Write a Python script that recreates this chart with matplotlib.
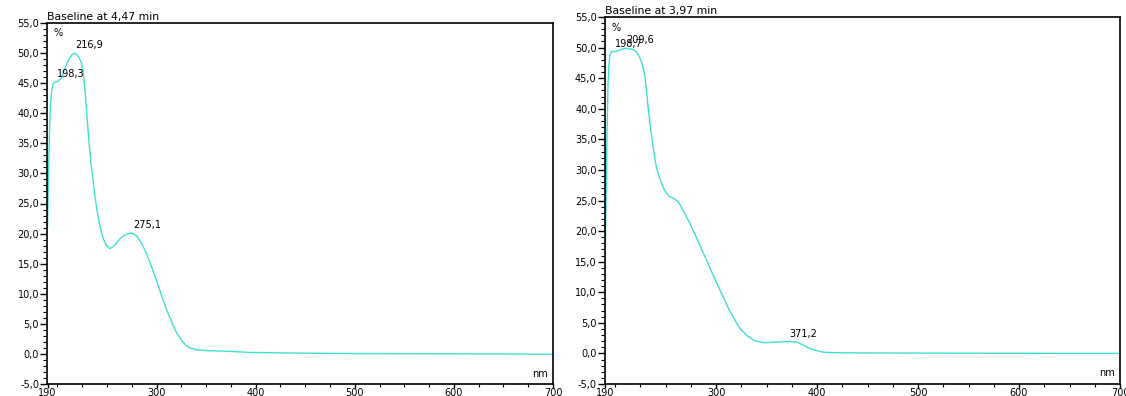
import matplotlib
matplotlib.use("Agg")
import matplotlib.pyplot as plt
from matplotlib.ticker import MultipleLocator, FuncFormatter, FixedLocator

# spectrum at 4,47 min (nm, %)
wl_a = [190, 191, 192, 193, 194, 195.5, 196.5, 198.3, 201, 204.3, 206.5, 209.4, 212, 214.5,
        216.9, 219.5, 222, 224.5, 226, 228, 230, 232, 234, 236, 238, 240, 242, 244, 246, 249,
        253, 258, 263, 268, 275.1, 280, 285, 290, 295, 300, 305, 310, 316, 320, 325, 330,
        334, 340, 350, 370, 394, 450, 500, 600, 700]
ab_a = [21, 30, 37, 41.5, 43.5, 44.8, 45.1, 45.2, 45.4, 45.9, 47.0, 48.2, 49.1, 49.7,
        50.0, 49.8, 49.2, 48.2, 46.8, 43.5, 39.1, 35.0, 31.5, 28.8, 26.0, 23.8, 22.0, 20.5,
        19.3, 18.1, 17.5, 18.1, 19.1, 19.8, 20.1, 19.6, 18.4, 16.6, 14.5, 12.2, 9.7, 7.4,
        5.0, 3.6, 2.3, 1.4, 1.0, 0.7, 0.55, 0.45, 0.25, 0.12, 0.06, 0.02, -0.05]
peaks_a = [198.3, 216.9, 275.1]
peak_val_a = [45.2, 50.0, 20.1]

# spectrum at 3,97 min (nm, %)
wl_b = [190, 191, 192, 193, 194, 195, 196.6, 198.7, 201, 203, 206, 209.6, 214, 218, 221.5,
        224.7, 227, 229.6, 231, 233, 235, 237, 239, 241, 243, 246, 248, 251, 254, 257.5,
        261, 262.6, 268, 274, 282, 290.7, 299, 307.2, 313, 318.7, 324, 330.3, 338, 346.8,
        356, 366, 371.2, 379.8, 386, 393, 400, 406, 422, 450, 500, 600, 700]
ab_b = [14, 25, 36, 44, 47.5, 48.8, 49.4, 49.3, 49.4, 49.5, 49.7, 49.9, 49.8, 49.7, 49.2,
        48.3, 47.2, 45.3, 43.0, 39.8, 37.0, 34.5, 32.2, 30.4, 29.2, 27.8, 27.0, 26.2, 25.6,
        25.4, 25.0, 24.8, 23.2, 21.3, 18.4, 15.2, 12.1, 9.2, 7.1, 5.4, 4.0, 2.95, 2.1, 1.75,
        1.8, 1.9, 1.95, 1.85, 1.4, 0.77, 0.45, 0.2, 0.1, 0.08, 0.05, 0.02, 0.0]
peaks_b = [198.7, 209.6, 371.2]
peak_val_b = [49.3, 49.9, 1.95]

x_ticks = [190, 300, 400, 500, 600, 700]
titles = ["Baseline at 4,47 min", "Baseline at 3,97 min"]

plt.rcParams["font.family"] = ["DejaVu Sans"]
plt.rcParams["font.size"] = 7

fig = plt.figure(figsize=(11.26, 3.96), dpi=100)
ax1 = fig.add_axes([47.5 / 1126, 12 / 396, 505.5 / 1126, 361 / 396])
ax2 = fig.add_axes([605 / 1126, 12 / 396, 515 / 1126, 367 / 396])

line_color = "#40E0D0"
comma = FuncFormatter(lambda v, p: ("%.1f" % v).replace(".", ","))

for ax, wl, ab, pk, pv, title in [(ax1, wl_a, ab_a, peaks_a, peak_val_a, titles[0]),
                                   (ax2, wl_b, ab_b, peaks_b, peak_val_b, titles[1])]:
    ax.plot(wl, ab, color=line_color, lw=1.0)
    for p, v in zip(pk, pv):
        ax.annotate(("%.1f" % p).replace(".", ","), (p, v), xytext=(1, 2),
                    textcoords="offset points", ha="left", va="bottom", fontsize=7)

    ax.set_xlim(190, 700)
    ax.set_ylim(-5, 55)
    ax.xaxis.set_major_locator(FixedLocator(x_ticks))
    ax.xaxis.set_minor_locator(MultipleLocator(25))
    ax.yaxis.set_major_locator(MultipleLocator(5))
    ax.yaxis.set_minor_locator(MultipleLocator(1))
    ax.yaxis.set_major_formatter(comma)
    ax.tick_params(axis="y", which="major", direction="out", length=5, width=1, pad=1, labelsize=7)
    ax.tick_params(axis="y", which="minor", direction="out", length=3, width=0.8)
    ax.tick_params(axis="x", which="major", direction="out", length=3, width=1, pad=0, labelsize=7)
    ax.tick_params(axis="x", which="minor", direction="out", length=2, width=0.8)
    for s in ax.spines.values():
        s.set_linewidth(1.2)

    ax.text(0.012, 0.985, "%", transform=ax.transAxes, ha="left", va="top", fontsize=7)
    ax.text(0.99, 0.015, "nm", transform=ax.transAxes, ha="right", va="bottom", fontsize=7)
    ax.text(0.0, 1.003, title, transform=ax.transAxes, ha="left", va="bottom", fontsize=7.8)

fig.savefig("out.png", dpi=100)
